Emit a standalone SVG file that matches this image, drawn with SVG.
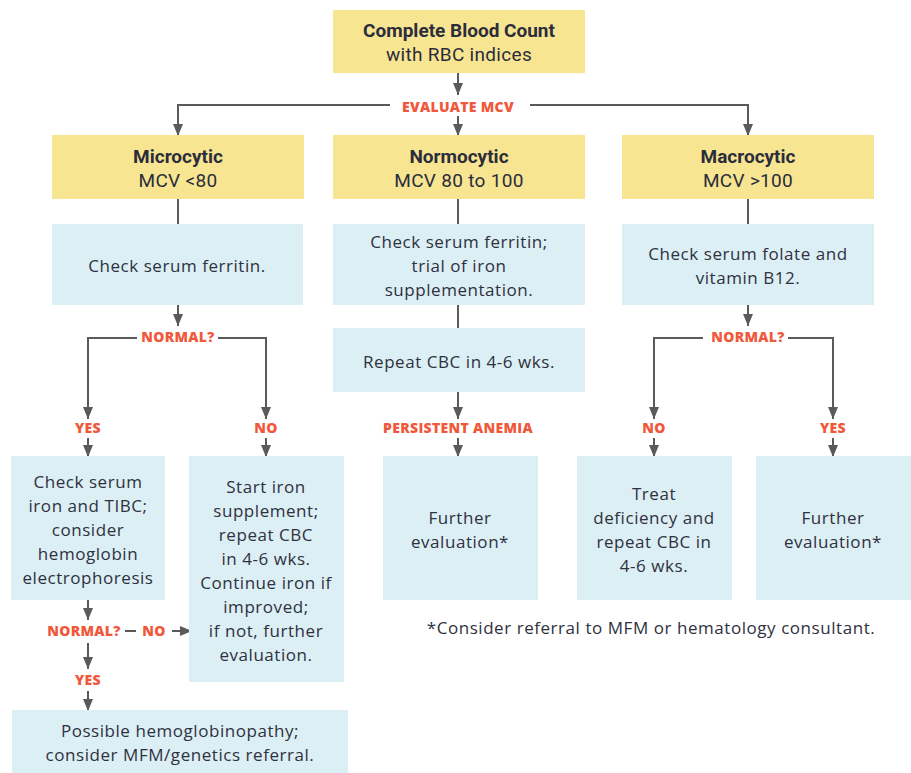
<svg xmlns="http://www.w3.org/2000/svg" width="911" height="773" viewBox="0 0 911 773">
<defs>
<style>
.y{fill:#F8E592}
.b{fill:#DBEFF4}
.h{font-family:Roboto,"Liberation Sans",sans-serif;font-size:19px;fill:#2B2D3A;text-anchor:middle}
.hb{font-weight:700;letter-spacing:0px}
.hr{letter-spacing:0.3px}
.t{font-family:"Open Sans","Liberation Sans",sans-serif;font-size:17px;letter-spacing:0.55px;fill:#2F3140;text-anchor:middle}
.r{font-family:"Open Sans","Liberation Sans",sans-serif;font-weight:800;font-size:14px;letter-spacing:0.3px;fill:#F0583C;text-anchor:middle}
.c{fill:none;stroke:#5A5A5A;stroke-width:2}
</style>
<marker id="a" markerUnits="userSpaceOnUse" markerWidth="12" markerHeight="10" viewBox="0 0 12 10" refX="12" refY="5" orient="auto">
<path d="M0,0 L12,5 L0,10 Z" fill="#5A5A5A"/>
</marker>
</defs>
<rect width="911" height="773" fill="#fff"/>
<g id="connectors">
<path class="c" d="M458,73 V95" marker-end="url(#a)"/>
<path class="c" d="M390,105 H178 V136" marker-end="url(#a)"/>
<path class="c" d="M530,105 H748 V136" marker-end="url(#a)"/>
<path class="c" d="M458,116 V136" marker-end="url(#a)"/>
<path class="c" d="M178,199 V224"/>
<path class="c" d="M458,199 V224"/>
<path class="c" d="M748,199 V224"/>
<path class="c" d="M178,305 V326" marker-end="url(#a)"/>
<path class="c" d="M137,338 H88 V419" marker-end="url(#a)"/>
<path class="c" d="M218,338 H266 V419" marker-end="url(#a)"/>
<path class="c" d="M88,438 V457" marker-end="url(#a)"/>
<path class="c" d="M266,438 V457" marker-end="url(#a)"/>
<path class="c" d="M458,305 V328"/>
<path class="c" d="M458,392 V419" marker-end="url(#a)"/>
<path class="c" d="M458,438 V457" marker-end="url(#a)"/>
<path class="c" d="M748,305 V326" marker-end="url(#a)"/>
<path class="c" d="M703,338 H654 V419" marker-end="url(#a)"/>
<path class="c" d="M788,338 H833 V419" marker-end="url(#a)"/>
<path class="c" d="M654,438 V457" marker-end="url(#a)"/>
<path class="c" d="M833,438 V457" marker-end="url(#a)"/>
<path class="c" d="M88,600 V620" marker-end="url(#a)"/>
<path class="c" d="M125,631 H136"/>
<path class="c" d="M172,631 H192" marker-end="url(#a)"/>
<path class="c" d="M88,643 V669" marker-end="url(#a)"/>
<path class="c" d="M88,691 V711" marker-end="url(#a)"/>
</g>
<g id="labels">
<text class="r" x="458" y="112">EVALUATE MCV</text>
<text class="r" x="178" y="342">NORMAL?</text>
<text class="r" x="88" y="433">YES</text>
<text class="r" x="266" y="433">NO</text>
<text class="r" x="458" y="433">PERSISTENT ANEMIA</text>
<text class="r" x="748" y="342">NORMAL?</text>
<text class="r" x="654" y="433">NO</text>
<text class="r" x="833" y="433">YES</text>
<text class="r" x="84" y="636">NORMAL?</text>
<text class="r" x="154" y="636">NO</text>
<text class="r" x="88" y="685">YES</text>
</g>
<g id="cbc">
<rect class="y" x="333" y="10" width="252" height="63"/>
<text class="h hb" x="459" y="37">Complete Blood Count</text>
<text class="h hr" x="459" y="61">with RBC indices</text>
</g>
<g id="microcytic">
<rect class="y" x="52" y="135" width="252" height="64"/>
<text class="h hb" x="178" y="163">Microcytic</text>
<text class="h hr" x="178" y="187">MCV &lt;80</text>
</g>
<g id="normocytic">
<rect class="y" x="333" y="135" width="252" height="64"/>
<text class="h hb" x="459" y="163">Normocytic</text>
<text class="h hr" x="459" y="187">MCV 80 to 100</text>
</g>
<g id="macrocytic">
<rect class="y" x="622" y="135" width="252" height="64"/>
<text class="h hb" x="748" y="163">Macrocytic</text>
<text class="h hr" x="748" y="187">MCV &gt;100</text>
</g>
<g id="ferritin-micro">
<rect class="b" x="52" y="224" width="251" height="81"/>
<text class="t" x="177" y="272">Check serum ferritin.</text>
</g>
<g id="ferritin-normo">
<rect class="b" x="333" y="224" width="252" height="81"/>
<text class="t" x="459" y="248">Check serum ferritin;</text>
<text class="t" x="459" y="272">trial of iron</text>
<text class="t" x="459" y="296">supplementation.</text>
</g>
<g id="folate">
<rect class="b" x="622" y="224" width="252" height="81"/>
<text class="t" x="748" y="260">Check serum folate and</text>
<text class="t" x="748" y="284">vitamin B12.</text>
</g>
<g id="repeat-cbc">
<rect class="b" x="333" y="328" width="252" height="64"/>
<text class="t" x="459" y="368">Repeat CBC in 4-6 wks.</text>
</g>
<g id="iron-tibc">
<rect class="b" x="11" y="456" width="154" height="144"/>
<text class="t" x="88" y="488">Check serum</text>
<text class="t" x="88" y="512">iron and TIBC;</text>
<text class="t" x="88" y="536">consider</text>
<text class="t" x="88" y="560">hemoglobin</text>
<text class="t" x="88" y="584">electrophoresis</text>
</g>
<g id="start-iron">
<rect class="b" x="189" y="456" width="155" height="226"/>
<text class="t" x="266" y="493">Start iron</text>
<text class="t" x="266" y="517">supplement;</text>
<text class="t" x="266" y="541">repeat CBC</text>
<text class="t" x="266" y="565">in 4-6 wks.</text>
<text class="t" x="266" y="589">Continue iron if</text>
<text class="t" x="266" y="613">improved;</text>
<text class="t" x="266" y="637">if not, further</text>
<text class="t" x="266" y="661">evaluation.</text>
</g>
<g id="further-normo">
<rect class="b" x="383" y="456" width="155" height="144"/>
<text class="t" x="460" y="524">Further</text>
<text class="t" x="460" y="548">evaluation*</text>
</g>
<g id="treat">
<rect class="b" x="577" y="456" width="155" height="144"/>
<text class="t" x="654" y="500">Treat</text>
<text class="t" x="654" y="524">deficiency and</text>
<text class="t" x="654" y="548">repeat CBC in</text>
<text class="t" x="654" y="572">4-6 wks.</text>
</g>
<g id="further-macro">
<rect class="b" x="756" y="456" width="155" height="144"/>
<text class="t" x="833" y="524">Further</text>
<text class="t" x="833" y="548">evaluation*</text>
</g>
<g id="hemoglobinopathy">
<rect class="b" x="12" y="710" width="336" height="63"/>
<text class="t" x="180" y="737">Possible hemoglobinopathy;</text>
<text class="t" x="180" y="761">consider MFM/genetics referral.</text>
</g>
<g id="footnote">
<text class="t" x="651" y="634">*Consider referral to MFM or hematology consultant.</text>
</g>
</svg>
